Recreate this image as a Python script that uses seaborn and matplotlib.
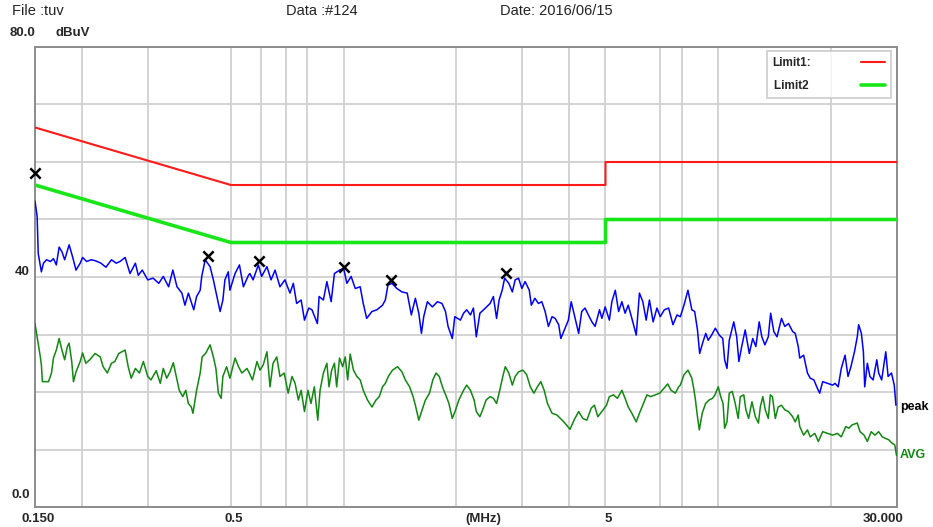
import matplotlib
matplotlib.use("Agg")
import matplotlib.pyplot as plt
from matplotlib.ticker import NullLocator
import pandas as pd
import seaborn as sns

# ---- data (MHz / dBuV) -------------------------------------------------
limit1_freq = [0.15, 0.5, 5.0, 5.0, 30.0]
limit1_dbuv = [66.0, 56.0, 56.0, 60.0, 60.0]
limit2_freq = [0.15, 0.5, 5.0, 5.0, 30.0]
limit2_dbuv = [56.0, 46.0, 46.0, 50.0, 50.0]

peak_freq = [
    0.150, 0.152, 0.153, 0.156, 0.158, 0.161, 0.165, 0.168, 0.171, 0.174,
    0.177, 0.180, 0.185, 0.189, 0.193, 0.198, 0.201, 0.206, 0.212, 0.218,
    0.225, 0.232, 0.240, 0.247, 0.253, 0.261, 0.269, 0.278, 0.283, 0.290,
    0.300, 0.310, 0.321, 0.330, 0.341, 0.350, 0.359, 0.370, 0.377, 0.385,
    0.398, 0.405, 0.414, 0.418, 0.427, 0.440, 0.449, 0.459, 0.468, 0.476,
    0.482, 0.492, 0.497, 0.513, 0.527, 0.540, 0.557,
    0.562, 0.573, 0.592, 0.604, 0.624, 0.640, 0.656, 0.676, 0.697, 0.719,
    0.734, 0.749, 0.770, 0.786, 0.807, 0.823, 0.851, 0.860, 0.883, 0.902,
    0.926, 0.945, 0.975, 1.00, 1.02, 1.047, 1.074, 1.107, 1.128, 1.152,
    1.19, 1.227, 1.27, 1.292, 1.313, 1.345, 1.387, 1.431, 1.478, 1.516,
    1.554, 1.587, 1.613, 1.636, 1.673, 1.725, 1.78, 1.83, 1.87, 1.9,
    1.95, 1.98, 2.05, 2.09,
    2.13, 2.18, 2.22, 2.26, 2.31, 2.39, 2.46, 2.51, 2.56, 2.60,
    2.65, 2.69, 2.76, 2.82, 2.87, 2.93, 2.99, 3.05, 3.13, 3.17,
    3.24, 3.31, 3.38, 3.45, 3.52, 3.60, 3.67, 3.75, 3.80, 3.90,
    3.98, 4.05, 4.15, 4.24, 4.32, 4.41, 4.50, 4.60, 4.69, 4.82,
    4.89, 4.99, 5.12, 5.20, 5.31, 5.42, 5.53, 5.64, 5.75, 5.88,
    6.04, 6.16, 6.29, 6.42, 6.55, 6.70, 6.86, 7.00, 7.18, 7.37,
    7.57, 7.76,
    7.92, 8.10, 8.30, 8.50, 8.65, 8.80, 8.92, 9.10, 9.26, 9.40,
    9.60, 9.82, 10.06, 10.28, 10.4, 10.55, 10.7, 11.0, 11.2, 11.35,
    11.55, 11.8, 12.1, 12.36, 12.6, 12.86, 13.07, 13.32, 13.6, 13.8,
    14.07, 14.35, 14.75, 15.05, 15.4, 15.8, 16.05, 16.35, 16.5, 16.9,
    17.3, 17.6, 18.0, 18.4, 18.65, 19.0, 19.6, 20.2, 20.5, 20.9,
    21.3, 21.8, 22.2, 22.6, 23.1, 23.5, 23.7, 24.1, 24.4, 24.6,
    25.0, 25.4, 25.9, 26.5, 26.8, 27.3, 28.0, 28.4, 29.0, 29.5,
    29.8,
]
peak_dbuv = [
    53.2, 50.5, 44.1, 40.9, 42.4, 43.0, 42.7, 43.2, 42.1, 45.2,
    44.4, 43.0, 45.6, 43.5, 41.2, 42.4, 43.4, 42.7, 43.0, 42.8,
    42.4, 41.7, 43.0, 42.4, 42.7, 43.4, 40.6, 42.4, 40.3, 41.2,
    39.5, 39.8, 38.9, 40.1, 38.3, 41.2, 38.3, 37.2, 35.1, 37.2,
    34.3, 36.6, 37.7, 40.1, 43.0, 41.8, 39.5, 36.6, 34.0, 36.0,
    39.5, 40.9, 37.7, 40.6, 42.1, 38.3, 40.3,
    40.6, 39.5, 42.1, 40.1, 41.8, 39.5, 41.2, 38.3, 39.5, 37.2,
    38.9, 35.4, 36.0, 32.5, 34.6, 34.3, 31.9, 36.6, 36.0, 39.2,
    35.7, 40.6, 41.2, 41.5, 38.9, 40.1, 38.0, 38.3, 35.4, 32.8,
    34.0, 34.3, 35.1, 36.0, 38.6, 38.9, 38.0, 37.4, 37.2, 33.4,
    36.3, 33.7, 30.2, 33.1, 35.7, 34.8, 35.7, 35.4, 34.0, 31.4,
    29.3, 33.1, 32.5, 33.7,
    34.3, 33.4, 34.6, 29.6, 33.7, 34.6, 35.4, 36.6, 32.8, 36.0,
    37.7, 39.8, 38.9, 37.4, 39.5, 39.8, 38.0, 39.2, 37.7, 35.1,
    36.3, 35.4, 35.7, 34.0, 31.4, 33.1, 32.8, 31.7, 29.3, 31.1,
    32.5, 35.7, 32.8, 30.2, 34.0, 34.6, 33.4, 32.2, 31.4, 34.3,
    32.8, 34.8, 32.5, 35.7, 37.7, 34.0, 35.7, 33.7, 35.1, 32.8,
    29.9, 37.2, 35.7, 32.5, 36.0, 32.2, 34.6, 33.1, 34.3, 34.6,
    31.7, 33.4,
    33.1, 35.1, 37.7, 34.3, 34.0, 30.8, 26.7, 28.7, 30.2, 29.0,
    29.9, 31.1, 29.9, 29.3, 25.6, 24.1, 29.0, 32.2, 29.6, 25.3,
    27.9, 30.8, 26.7, 29.3, 27.9, 32.2, 29.6, 28.2, 29.6, 33.7,
    30.5, 29.6, 32.8, 31.4, 31.9, 30.5, 30.2, 27.9, 25.9, 26.4,
    23.3, 22.4, 22.1, 20.6, 19.8, 21.8, 21.5, 21.2, 21.5, 20.9,
    24.1, 26.4, 22.7, 24.4, 27.0, 29.6, 31.7, 30.2, 27.0, 20.9,
    25.0, 22.7, 22.1, 25.6, 23.3, 22.1, 27.0, 22.7, 23.3, 21.2,
    17.7,
]

avg_freq = [
    0.150, 0.152, 0.155, 0.156, 0.157, 0.163, 0.166, 0.168, 0.171, 0.174,
    0.177, 0.180, 0.183, 0.185, 0.188, 0.190, 0.193, 0.198, 0.201, 0.205,
    0.210, 0.217, 0.224, 0.228, 0.234, 0.240, 0.245, 0.251, 0.261, 0.266,
    0.271, 0.278, 0.285, 0.292, 0.300, 0.306, 0.316, 0.324, 0.330, 0.337,
    0.344, 0.351, 0.359, 0.364, 0.372, 0.379, 0.385, 0.392, 0.396, 0.405,
    0.414, 0.419, 0.428, 0.440, 0.449, 0.456, 0.463, 0.471, 0.476, 0.487,
    0.497, 0.513, 0.524, 0.535, 0.552,
    0.560, 0.571, 0.587, 0.598, 0.610, 0.624, 0.636, 0.648, 0.663, 0.676,
    0.694, 0.711, 0.728, 0.742, 0.757, 0.770, 0.786, 0.803, 0.818, 0.835,
    0.853, 0.865, 0.883, 0.902, 0.914, 0.929, 0.945, 0.958, 0.975, 0.994,
    1.01, 1.025, 1.041, 1.062, 1.085, 1.107, 1.128, 1.158, 1.19, 1.22,
    1.245, 1.27, 1.292, 1.316, 1.35, 1.393, 1.431, 1.461, 1.50, 1.532,
    1.554, 1.587, 1.62, 1.653, 1.695, 1.73, 1.765, 1.80, 1.835, 1.88,
    1.91, 1.95, 1.99, 2.03, 2.09,
    2.13, 2.18, 2.23, 2.26, 2.31, 2.35, 2.40, 2.46, 2.51, 2.56,
    2.61, 2.66, 2.70, 2.76, 2.82, 2.87, 2.93, 3.01, 3.08, 3.15,
    3.22, 3.29, 3.36, 3.43, 3.50, 3.60, 3.71, 3.83, 3.93, 4.02,
    4.12, 4.24, 4.35, 4.46, 4.58, 4.67, 4.77, 4.89, 5.03, 5.12,
    5.25, 5.38, 5.53, 5.64, 5.75, 5.88, 6.04, 6.16, 6.31, 6.45,
    6.60, 6.79, 6.98, 7.15, 7.33, 7.48, 7.68, 7.84,
    7.92, 8.10, 8.30, 8.50, 8.60, 8.68, 8.80, 8.90, 9.06, 9.25,
    9.45, 9.65, 9.80, 10.0, 10.15, 10.3, 10.4, 10.55, 10.7, 10.9,
    11.1, 11.3, 11.45, 11.7, 11.85, 12.05, 12.3, 12.56, 12.8, 12.95,
    13.15, 13.35, 13.6, 13.77, 13.95, 14.2, 14.45, 14.75, 15.05, 15.4,
    15.8, 16.05, 16.35, 16.5, 16.9, 17.3, 17.6, 18.1, 18.5, 19.0,
    19.6, 20.2, 20.8, 21.3, 21.9, 22.3, 22.8, 23.5, 23.9, 24.5,
    25.0, 25.6, 26.2, 26.8, 27.4, 28.0, 28.5, 29.1, 29.6, 29.9,
]
avg_dbuv = [
    31.9, 29.6, 26.1, 24.7, 21.8, 21.8, 23.3, 25.9, 27.3, 29.3,
    27.3, 25.6, 27.9, 28.5, 25.3, 21.8, 23.5, 25.3, 26.8, 25.0,
    25.6, 26.7, 26.1, 24.4, 23.3, 25.0, 25.3, 26.7, 27.3, 24.4,
    22.4, 24.1, 23.3, 25.3, 22.7, 22.1, 23.7, 21.5, 24.1, 22.4,
    23.5, 25.1, 22.1, 20.3, 19.2, 20.3, 18.0, 17.4, 16.3, 20.3,
    23.3, 26.1, 26.7, 28.2, 26.1, 24.1, 19.8, 18.9, 22.7, 24.4,
    22.4, 25.9, 24.4, 23.3, 24.1,
    23.3, 22.1, 25.3, 23.8, 24.7, 27.0, 20.9, 25.0, 26.1, 22.7,
    23.3, 19.8, 22.7, 21.5, 18.6, 20.3, 16.6, 20.3, 18.0, 20.9,
    15.1, 20.3, 23.3, 25.0, 20.9, 23.8, 25.0, 20.9, 25.9, 24.4,
    26.1, 22.1, 26.6, 23.8, 22.7, 22.1, 20.3, 18.6, 17.4, 18.6,
    19.2, 20.9, 21.5, 22.7, 23.8, 24.4, 23.5, 22.1, 20.9, 19.2,
    17.7, 15.1, 16.9, 18.6, 19.8, 22.1, 23.3, 22.7, 20.9, 19.2,
    18.0, 15.4, 16.9, 18.6, 20.3,
    21.2, 20.3, 18.6, 16.6, 15.7, 16.9, 18.6, 19.2, 18.9, 18.0,
    20.3, 22.7, 24.4, 23.3, 21.2, 22.7, 23.5, 23.8, 23.0, 20.9,
    19.8, 20.9, 21.8, 20.3, 18.0, 16.3, 16.0, 15.1, 14.3, 13.5,
    15.1, 16.6, 15.4, 15.1, 17.2, 17.7, 15.7, 16.6, 17.7, 19.2,
    19.5, 18.9, 20.3, 18.9, 17.4, 16.3, 14.8, 16.3, 18.0, 19.5,
    19.2, 19.5, 19.8, 20.6, 21.4, 20.3, 19.8, 20.9,
    21.2, 23.0, 23.8, 22.4, 20.6, 18.9, 15.7, 13.4, 16.3, 18.0,
    18.6, 18.9, 19.5, 20.9, 19.2, 18.0, 13.7, 14.8, 19.8, 20.1,
    18.0, 15.4, 19.2, 19.5, 16.9, 15.4, 18.3, 15.7, 14.6, 17.4,
    19.2, 16.9, 15.4, 19.5, 19.2, 15.4, 17.4, 17.7, 16.9, 16.6,
    15.7, 14.8, 16.0, 14.0, 12.5, 13.4, 12.2, 12.8, 11.4, 13.1,
    12.8, 12.5, 12.8, 12.2, 14.0, 13.7, 14.3, 14.6, 13.1, 12.5,
    11.4, 13.1, 12.5, 13.1, 12.2, 11.9, 11.7, 11.1, 10.8, 9.0,
]

marker_freq = [0.150, 0.434, 0.593, 1.00, 1.340, 2.72]
marker_dbuv = [58.1, 43.7, 42.7, 41.8, 39.5, 40.7]

grid_freq = [0.2, 0.3, 0.5, 0.6, 0.7, 0.8, 1, 2, 3, 4, 5, 7, 8, 10, 20]
x_labels = [(0.150, "0.150"), (0.5, "0.5"), (5, "5"), (30, "30.000")]

peak_df = pd.DataFrame({"freq": peak_freq, "dbuv": peak_dbuv})
avg_df = pd.DataFrame({"freq": avg_freq, "dbuv": avg_dbuv})

sns.set_theme(style="white")
plt.rcParams["font.family"] = ["Liberation Sans", "DejaVu Sans"]

fig = plt.figure(figsize=(9.33, 5.27), dpi=100)
ax = fig.add_axes([35 / 933, 20 / 527, 862 / 933, 460 / 527])

# limits
sns.lineplot(x=limit1_freq, y=limit1_dbuv, ax=ax, color="#ff1a1a", lw=1.5,
             sort=False, estimator=None, label="Limit1:", zorder=3)
sns.lineplot(x=limit2_freq, y=limit2_dbuv, ax=ax, color="#19e619", lw=2.6,
             sort=False, estimator=None, label="Limit2 ", zorder=3)

# traces
sns.lineplot(data=peak_df, x="freq", y="dbuv", ax=ax, color="#0000ff", lw=1.1,
             sort=False, estimator=None, zorder=4)
sns.lineplot(data=avg_df, x="freq", y="dbuv", ax=ax, color="#118811", lw=1.1,
             sort=False, estimator=None, zorder=4)

# peak markers
sns.scatterplot(x=marker_freq, y=marker_dbuv, ax=ax, marker="x", s=55,
                color="black", linewidth=1.8, zorder=5, legend=False,
                clip_on=False)

ax.set_xscale("log")
ax.set_xlim(0.15, 30)
ax.set_ylim(0, 80)
ax.set_xticks(grid_freq)
ax.xaxis.set_minor_locator(NullLocator())
ax.set_xticklabels([])
ax.set_yticks(range(0, 81, 10))
ax.set_yticklabels([])
ax.tick_params(length=0)
ax.set_xlabel("")
ax.set_ylabel("")
ax.grid(True, color="#d0d0d0", lw=1.3)
ax.set_axisbelow(True)
for sp in ax.spines.values():
    sp.set_color("#8c8c8c")
    sp.set_linewidth(1.4)

# legend box (text first, line after)
leg = ax.legend(loc="upper right", bbox_to_anchor=(0.9925, 0.991),
                markerfirst=False, frameon=True, fancybox=False,
                prop={"size": 8.5, "weight": "bold"}, handlelength=2.0,
                handletextpad=4.2, labelspacing=0.9, borderpad=0.5,
                borderaxespad=0)
leg.get_frame().set_edgecolor("#c8c8c8")
leg.get_frame().set_linewidth(1.4)

# y labels
fig.text(10 / 933, 1 - 33 / 527, "80.0", fontsize=9.5, weight="bold", va="center")
fig.text(55 / 933, 1 - 33 / 527, "dBuV", fontsize=9.5, weight="bold", va="center")
ax.annotate("40", xy=(0, 40), xycoords=("axes fraction", "data"),
            xytext=(-5, 5), textcoords="offset pixels", ha="right", va="center",
            fontsize=9.5, weight="bold")
ax.annotate("0.0", xy=(0, 0), xycoords=("axes fraction", "data"),
            xytext=(-5, 12), textcoords="offset pixels", ha="right", va="center",
            fontsize=9.5, weight="bold")

# x labels
for f, lab in x_labels:
    ha = "center"
    dx = 3
    if f == 0.150:
        dx = -13
        ha = "left"
    if f == 30:
        dx = 6
        ha = "right"
    ax.annotate(lab, xy=(f, 0), xycoords=("data", "axes fraction"),
                xytext=(dx, -12), textcoords="offset pixels", ha=ha, va="center",
                fontsize=9.5, weight="bold")
ax.annotate("(MHz)", xy=(0.5, 0), xycoords="axes fraction", xytext=(17, -12),
            textcoords="offset pixels", ha="center", va="center",
            fontsize=9.5, weight="bold")

# trace names at the right edge
ax.annotate("peak", xy=(1, peak_dbuv[-1]), xycoords=("axes fraction", "data"),
            xytext=(3, -2), textcoords="offset pixels", ha="left", va="center",
            fontsize=9, weight="bold", color="black", annotation_clip=False)
ax.annotate("AVG", xy=(1, avg_dbuv[-1]), xycoords=("axes fraction", "data"),
            xytext=(3, 0), textcoords="offset pixels", ha="left", va="center",
            fontsize=9, weight="bold", color="#118811", annotation_clip=False)

# header
fig.text(12 / 933, 1 - 11 / 527, "File :tuv", fontsize=10.5, color="#222222", va="center")
fig.text(286 / 933, 1 - 11 / 527, "Data :#124", fontsize=10.5, color="#222222", va="center")
fig.text(500 / 933, 1 - 11 / 527, "Date: 2016/06/15", fontsize=10.5, color="#222222", va="center")

fig.savefig("out.png", dpi=100)
